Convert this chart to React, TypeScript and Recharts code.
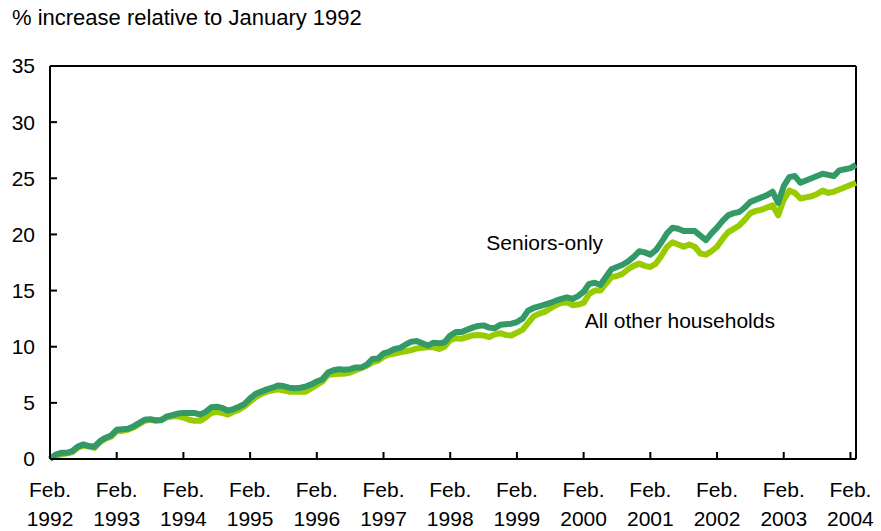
import React from "react";
import { LineChart, Line, XAxis, YAxis, ReferenceLine, ReferenceDot } from "recharts";

// Monthly index: 0 = Feb. 1992 ... 145 = Mar. 2004
const seniorsOnly = [
  0.0, 0.4, 0.55, 0.55, 0.7, 1.1, 1.3, 1.15, 1.1, 1.6, 1.9, 2.1,
  2.6, 2.65, 2.7, 2.9, 3.2, 3.5, 3.55, 3.45, 3.45, 3.8, 3.9, 4.05,
  4.1, 4.1, 4.1, 3.95, 4.2, 4.6, 4.65, 4.55, 4.3, 4.45, 4.65, 4.9,
  5.4, 5.8, 6.0, 6.2, 6.35, 6.55, 6.5, 6.35, 6.3, 6.35, 6.45, 6.65,
  6.9, 7.1, 7.7, 7.9, 8.0, 7.95, 8.0, 8.15, 8.15, 8.4, 8.9, 8.95,
  9.4, 9.55, 9.8, 9.9, 10.2, 10.45, 10.5, 10.3, 10.1, 10.35, 10.3, 10.4,
  11.0, 11.3, 11.3, 11.5, 11.7, 11.85, 11.9, 11.7, 11.65, 11.95, 12.0, 12.05,
  12.2, 12.5, 13.2, 13.45, 13.6, 13.75, 13.9, 14.1, 14.25, 14.4, 14.25, 14.5,
  14.9, 15.6, 15.7, 15.5, 16.2, 16.9, 17.1, 17.3, 17.6, 18.0, 18.5, 18.4,
  18.2, 18.6, 19.3, 20.1, 20.6, 20.5, 20.3, 20.3, 20.3, 19.9, 19.5, 20.1,
  20.6, 21.2, 21.7, 21.9, 22.0, 22.4, 22.9, 23.1, 23.3, 23.5, 23.8, 22.8,
  24.3, 25.1, 25.2, 24.6, 24.8, 25.0, 25.2, 25.4, 25.3, 25.2, 25.7, 25.8,
  25.9, 26.2,
];

const allOtherHouseholds = [
  0.0, 0.3, 0.4, 0.5, 0.6, 1.0, 1.2, 1.1, 1.0, 1.5, 1.8, 2.0,
  2.5, 2.5, 2.6, 2.8, 3.1, 3.4, 3.5, 3.4, 3.5, 3.7, 3.8, 3.8,
  3.7, 3.5, 3.4, 3.4, 3.7, 4.1, 4.2, 4.1, 3.95, 4.2, 4.4, 4.7,
  5.1, 5.5, 5.8, 6.0, 6.1, 6.2, 6.1, 6.0, 6.0, 6.0, 6.0, 6.3,
  6.6, 6.9, 7.5, 7.55, 7.6, 7.6, 7.7, 7.9, 8.1, 8.3, 8.6, 8.75,
  9.1, 9.3, 9.4, 9.5, 9.6, 9.7, 9.85, 9.9, 9.95, 9.95, 9.8, 10.0,
  10.6, 10.75, 10.7, 10.85, 11.0, 11.05, 11.0, 10.85, 11.1, 11.2, 11.05, 11.0,
  11.25, 11.5, 12.1, 12.7, 12.95, 13.1, 13.4, 13.7, 13.9, 13.95, 13.7, 13.75,
  13.9, 14.7, 15.0, 15.0, 15.6, 16.2, 16.3, 16.5, 16.9, 17.2, 17.4, 17.2,
  17.1, 17.4, 18.1, 18.9, 19.3, 19.1, 18.9, 19.1, 18.9, 18.3, 18.2, 18.5,
  18.9, 19.6, 20.2, 20.5, 20.8, 21.3, 21.9, 22.1, 22.2, 22.4, 22.6, 21.7,
  23.1, 23.9, 23.7, 23.2, 23.3, 23.4, 23.6, 23.9, 23.7, 23.8, 24.0, 24.2,
  24.4, 24.6,
];

const tickMonth = "Feb.";
const tickYears = ["1992", "1993", "1994", "1995", "1996", "1997", "1998", "1999", "2000", "2001", "2002", "2003", "2004"];
const xTicks = tickYears.map((_, k) => k * 12);
const yTicks = [0, 5, 10, 15, 20, 25, 30, 35];
const title = "% increase relative to January 1992";
const seniorsLabel = "Seniors-only";
const othersLabel = "All other households";

const data = seniorsOnly.map((v, i) => ({ i, seniors: v, others: allOtherHouseholds[i] }));

const FONT = "'Liberation Sans', Arial, sans-serif";

const XTick = (props: any) => {
  const { x, y, payload } = props;
  const idx = Math.round(payload.value / 12);
  return (
    <g>
      <line x1={x} x2={x} y1={y} y2={y - 7} stroke="#000" strokeWidth={2} />
      <text x={x} y={y + 38} textAnchor="middle" fontSize={21} fontFamily={FONT} fill="#000">{tickMonth}</text>
      <text x={x} y={y + 67} textAnchor="middle" fontSize={21} fontFamily={FONT} fill="#000">{tickYears[idx]}</text>
    </g>
  );
};

const YTick = (props: any) => {
  const { x, y, payload } = props;
  return (
    <g>
      <line x1={x + 15} x2={x + 22} y1={y} y2={y} stroke="#000" strokeWidth={2} />
      <text x={x} y={y} dy="0.355em" textAnchor="end" fontSize={21} fontFamily={FONT} fill="#000">{payload.value}</text>
    </g>
  );
};

const SeriesLabel = (text: string) => (props: any) => {
  const { viewBox } = props;
  const cx = viewBox.x + (viewBox.width || 0) / 2;
  const cy = viewBox.y + (viewBox.height || 0) / 2;
  return (
    <text x={cx} y={cy} dy="0.355em" textAnchor="middle" fontSize={21} fontFamily={FONT} fill="#000">{text}</text>
  );
};

export default function App() {
  return (
    <div style={{ position: "absolute", left: 0, top: 0, width: 881, height: 531, background: "#fff" }}>
      <div style={{ position: "absolute", left: 12, top: 5, fontSize: 22, fontFamily: FONT, color: "#000", whiteSpace: "nowrap", lineHeight: "26px" }}>
        {title}
      </div>
      <LineChart width={881} height={531} data={data} margin={{ top: 66, right: 25, bottom: 0, left: 0 }}>
        <XAxis
          type="number"
          dataKey="i"
          domain={[0, 145]}
          ticks={xTicks}
          interval={0}
          height={72}
          tickSize={0}
          tickMargin={0}
          tickLine={false}
          axisLine={{ stroke: "#000", strokeWidth: 2 }}
          tick={<XTick />}
        />
        <YAxis
          type="number"
          domain={[0, 35]}
          ticks={yTicks}
          interval={0}
          width={50}
          tickSize={0}
          tickMargin={15}
          tickLine={false}
          axisLine={{ stroke: "#000", strokeWidth: 2 }}
          tick={<YTick />}
        />
        <ReferenceLine y={35} stroke="#000" strokeWidth={2} />
        <ReferenceLine x={145} stroke="#000" strokeWidth={2} />
        <Line dataKey="others" stroke="#99CC00" strokeWidth={6} dot={false} isAnimationActive={false} strokeLinejoin="round" />
        <Line dataKey="seniors" stroke="#339966" strokeWidth={6} dot={false} isAnimationActive={false} strokeLinejoin="round" />
        <ReferenceDot x={89} y={19.3} r={0} stroke="none" fill="none" label={SeriesLabel(seniorsLabel)} />
        <ReferenceDot x={113.3} y={12.3} r={0} stroke="none" fill="none" label={SeriesLabel(othersLabel)} />
      </LineChart>
    </div>
  );
}
